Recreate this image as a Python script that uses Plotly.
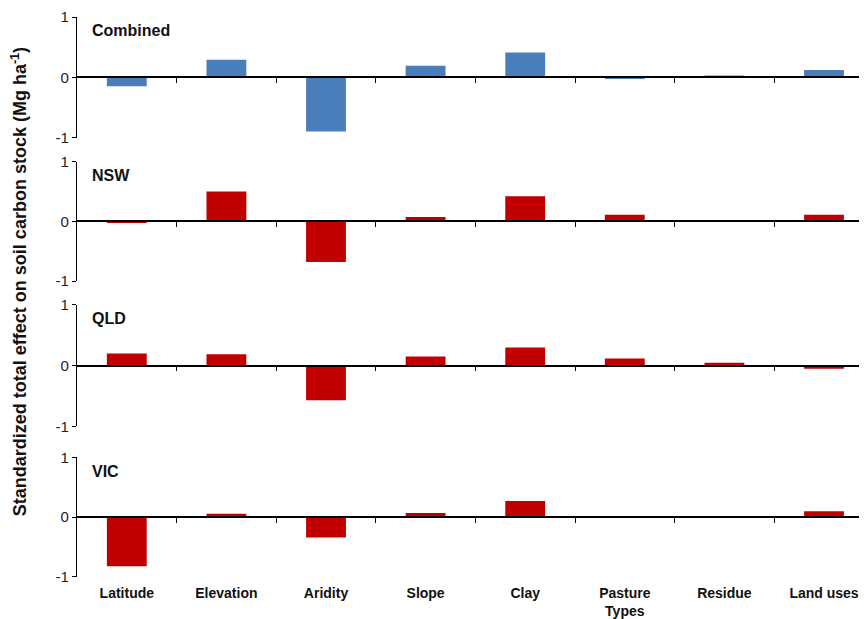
import plotly.graph_objects as go

categories = ["Latitude", "Elevation", "Aridity", "Slope", "Clay", "Pasture<br>Types", "Residue", "Land uses"]
panels = ["Combined", "NSW", "QLD", "VIC"]
combined = [-0.15, 0.29, -0.90, 0.19, 0.41, -0.02, 0.03, 0.12]
nsw = [-0.03, 0.50, -0.68, 0.07, 0.42, 0.11, 0.01, 0.11]
qld = [0.20, 0.19, -0.57, 0.15, 0.30, 0.12, 0.05, -0.05]
vic = [-0.82, 0.06, -0.34, 0.07, 0.27, 0.005, 0.0, 0.10]
series = [combined, nsw, qld, vic]
colors = ["#4a7ebb", "#c00000", "#c00000", "#c00000"]

OFF = 8  # page body margin
W, H = 867 - OFF, 619 - OFF
# panel pixel extents (top, bottom), corrected window coords
panel_px = [(15.0, 137.3), (161.6, 282.9), (307.1, 430.4), (461.8, 583.1)]
top_px, bot_px = panel_px[0][0], panel_px[-1][1]
ml = 77 - OFF
mt = top_px - OFF
mb = H - (bot_px - OFF)
plot_h = H - mt - mb
plot_w = W - ml
domains = [[(bot_px - b) / plot_h, (bot_px - t) / plot_h] for t, b in panel_px]

xr = [-0.5, -0.5 + plot_w / 99.6]
idx = list(range(len(categories)))
boundaries = [i + 0.5 for i in range(len(categories) - 1)]

fig = go.Figure()
font_family = "Liberation Sans, Arial, sans-serif"

for k, (vals, col) in enumerate(zip(series, colors)):
    n = "" if k == 0 else str(k + 1)
    fig.add_trace(go.Bar(x=idx, y=vals, width=0.4, marker=dict(color=col, line=dict(width=0)),
                         xaxis="x" + n, yaxis="y" + n, showlegend=False))
    d = domains[k]
    fig.layout["xaxis" + n] = dict(
        domain=[0, 1], range=xr, anchor="free", position=(d[0] + d[1]) / 2,
        showline=True, linecolor="black", linewidth=1.5,
        ticks="outside", ticklen=5, tickwidth=1.3, tickcolor="black",
        tickvals=boundaries, showticklabels=False, showgrid=False, zeroline=False,
    )
    fig.layout["yaxis" + n] = dict(
        domain=d, range=[-1, 1], anchor="x" + n,
        showline=True, linecolor="black", linewidth=1.2,
        ticks="outside", ticklen=4, tickcolor="black",
        tickvals=[-1, 0, 1], ticktext=["-1", "0", "1"],
        tickfont=dict(family=font_family, size=15, color="#222"),
        showgrid=False, zeroline=False,
    )
    fig.add_annotation(text="<b>" + panels[k] + "</b>", xref="paper", yref="y" + n,
                       x=13 / plot_w, y=0.77, xanchor="left", yanchor="middle",
                       showarrow=False, font=dict(family=font_family, size=16, color="#111"))

# bottom category labels
fig.layout["xaxis5"] = dict(
    overlaying="x4", anchor="y4", side="bottom", range=xr,
    tickvals=idx, ticktext=["<b>" + c.replace("<br>", "</b><br><b>") + "</b>" for c in categories],
    ticks="outside", ticklen=3, tickcolor="rgba(0,0,0,0)", showline=False, showgrid=False, zeroline=False,
    tickfont=dict(family=font_family, size=14, color="#111"),
)
fig.add_trace(go.Bar(x=idx, y=[0] * len(idx), xaxis="x5", yaxis="y4", showlegend=False,
                     marker=dict(color="rgba(0,0,0,0)"), hoverinfo="skip"))

fig.add_annotation(text="<b>Standardized total effect on soil carbon stock (Mg ha<sup>-1</sup>)</b>",
                   xref="paper", yref="paper", x=(19 - OFF - ml) / plot_w,
                   y=(bot_px - 284) / plot_h, textangle=-90,
                   showarrow=False, xanchor="center", yanchor="middle",
                   font=dict(family=font_family, size=18, color="#111"))

fig.update_layout(width=W, height=H, margin=dict(l=ml, r=0, t=mt, b=mb),
                  plot_bgcolor="white", paper_bgcolor="white", bargap=0.6)
fig.write_html("out.html")
